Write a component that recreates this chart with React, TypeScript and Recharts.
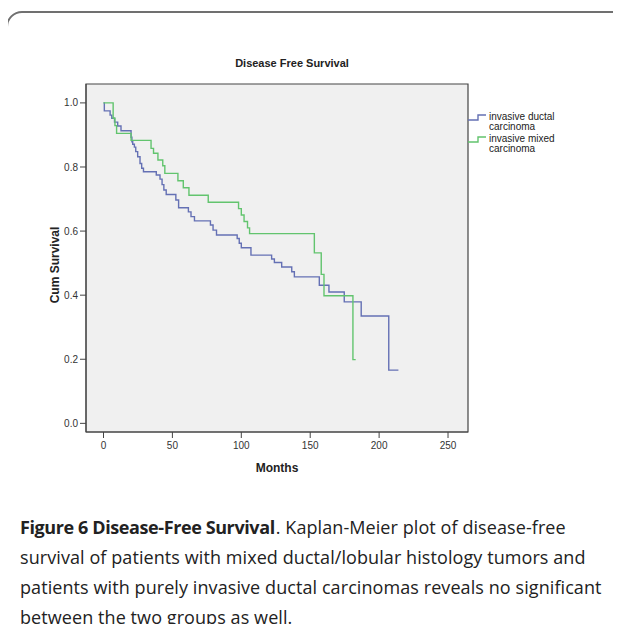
import React from 'react';
import { LineChart, Line, XAxis, YAxis, CartesianGrid, ReferenceArea, Legend } from 'recharts';

// months / cumulative survival
const idcMonths = [0, 0.6, 4.8, 6, 8, 10.3, 12.7, 20, 20.6, 21.2, 22.4, 23.4, 24.8, 26.5, 27.7, 29, 38.3, 41, 42.5, 43.8, 45.5, 52.5, 54.5, 61.6, 63.5, 66, 77.6, 79.5, 82, 97, 98.5, 100, 107, 122, 124, 129.3, 136.6, 138.5, 156.6, 163.6, 174.7, 187, 207, 214];
const idcSurvival = [1, 0.975, 0.962, 0.952, 0.94, 0.928, 0.913, 0.893, 0.879, 0.871, 0.862, 0.848, 0.832, 0.811, 0.796, 0.785, 0.775, 0.762, 0.745, 0.728, 0.714, 0.697, 0.673, 0.66, 0.645, 0.632, 0.619, 0.603, 0.588, 0.577, 0.562, 0.548, 0.525, 0.513, 0.502, 0.488, 0.473, 0.457, 0.431, 0.41, 0.379, 0.335, 0.166, 0.166];

const mixedMonths = [0, 7, 8.3, 9.5, 20, 34.5, 36.3, 39.5, 43, 44.5, 54, 57.9, 62, 76, 98, 100, 102, 104.5, 106, 153, 158, 160, 181, 183];
const mixedSurvival = [1, 0.952, 0.929, 0.905, 0.883, 0.858, 0.843, 0.822, 0.804, 0.78, 0.757, 0.735, 0.712, 0.69, 0.67, 0.65, 0.63, 0.61, 0.592, 0.532, 0.465, 0.398, 0.199, 0.199];

const monthTicks = [0, 50, 100, 150, 200, 250];
const survivalTicks = [0, 0.2, 0.4, 0.6, 0.8, 1.0];
const seriesNames = ['invasive ductal carcinoma', 'invasive mixed carcinoma'];

const X_MIN = -12.7;
const X_MAX = 264.5;
const Y_MIN = -0.027;
const Y_MAX = 1.059;

const BLUE = '#6470b4';
const GREEN = '#62c46e';
const chartFont = '"Liberation Sans", Arial, sans-serif';

const idcData = idcMonths.map((t, i) => ({ t, s: idcSurvival[i] }));
const mixedData = mixedMonths.map((t, i) => ({ t, s: mixedSurvival[i] }));

function StepLegend() {
  const colors = [BLUE, GREEN];
  return (
    <div style={{ fontFamily: chartFont, fontSize: 10, color: '#222', lineHeight: '10px' }}>
      {seriesNames.map((name, i) => {
        const words = name.split(' ');
        return (
          <div key={name} style={{ display: 'flex', alignItems: 'flex-start', marginBottom: 2 }}>
            <svg width={21} height={12}>
              <path d="M0 8 H10 V3 H18" fill="none" stroke={colors[i]} strokeWidth={1.4} />
            </svg>
            <div>
              {words.slice(0, 2).join(' ')}
              <br />
              {words.slice(2).join(' ')}
            </div>
          </div>
        );
      })}
    </div>
  );
}

export default function App() {
  return (
    <div style={{ position: 'relative', width: 621, height: 632, margin: -8, overflow: 'hidden', background: '#fff' }}>
      <div
        style={{
          position: 'absolute',
          left: 6,
          top: 11,
          width: 660,
          height: 660,
          border: '2px solid #707070',
          borderRadius: 16,
          boxSizing: 'border-box',
        }}
      />
      <div
        style={{
          position: 'absolute',
          left: 192,
          width: 200,
          top: 57,
          textAlign: 'center',
          fontFamily: chartFont,
          fontWeight: 'bold',
          fontSize: 11,
          color: '#222',
        }}
      >
        Disease Free Survival
      </div>
      <div style={{ position: 'absolute', left: 0, top: 0 }}>
        <LineChart width={621} height={500} margin={{ top: 84, right: 153, left: 46, bottom: 24 }}>
          <CartesianGrid horizontal={false} vertical={false} fill="#f0f0f0" />
          <ReferenceArea x1={X_MIN} x2={X_MAX} y1={Y_MIN} y2={Y_MAX} fill="none" stroke="#444" strokeWidth={1.2} />
          <XAxis
            dataKey="t"
            type="number"
            domain={[X_MIN, X_MAX]}
            ticks={monthTicks}
            allowDataOverflow
            height={44}
            tickSize={6}
            tickMargin={4}
            axisLine={{ stroke: '#444' }}
            tickLine={{ stroke: '#444' }}
            tick={{ fontSize: 10, fill: '#333', fontFamily: chartFont }}
            label={{ value: 'Months', position: 'insideBottom', offset: 4, fontSize: 12, fontWeight: 'bold', fill: '#222', fontFamily: chartFont }}
          />
          <YAxis
            type="number"
            domain={[Y_MIN, Y_MAX]}
            ticks={survivalTicks}
            allowDataOverflow
            width={40}
            tickSize={6}
            axisLine={{ stroke: '#444' }}
            tickLine={{ stroke: '#444' }}
            tickFormatter={(v: number) => v.toFixed(1)}
            tick={{ fontSize: 10, fill: '#333', fontFamily: chartFont }}
          />
          <Legend
            layout="vertical"
            align="center"
            verticalAlign="middle"
            content={() => <StepLegend />}
            wrapperStyle={{ position: 'absolute', left: 468, top: 112, width: 150 }}
          />
          <Line data={idcData} dataKey="s" name={seriesNames[0]} type="stepAfter" stroke={BLUE} strokeWidth={1.4} dot={false} isAnimationActive={false} />
          <Line data={mixedData} dataKey="s" name={seriesNames[1]} type="stepAfter" stroke={GREEN} strokeWidth={1.4} dot={false} isAnimationActive={false} />
        </LineChart>
      </div>
      <div
        style={{
          position: 'absolute',
          left: 55,
          top: 265,
          transform: 'translate(-50%, -50%) rotate(-90deg)',
          whiteSpace: 'nowrap',
          fontFamily: chartFont,
          fontWeight: 'bold',
          fontSize: 12,
          color: '#222',
        }}
      >
        Cum Survival
      </div>
      <div
        style={{
          position: 'absolute',
          left: 20,
          top: 512,
          width: 597,
          fontFamily: '"Open Sans", "Noto Sans", sans-serif',
          fontSize: 18,
          lineHeight: '30px',
          color: '#222',
          letterSpacing: 0.08,
        }}
      >
        <b style={{ letterSpacing: -0.4, marginRight: 1 }}>Figure 6 Disease-Free Survival</b>
        <span>. Kaplan-Meier plot of disease-free survival of patients with mixed ductal/lobular histology tumors and patients with purely invasive ductal carcinomas reveals no significant between the two groups as well.</span>
      </div>
    </div>
  );
}
